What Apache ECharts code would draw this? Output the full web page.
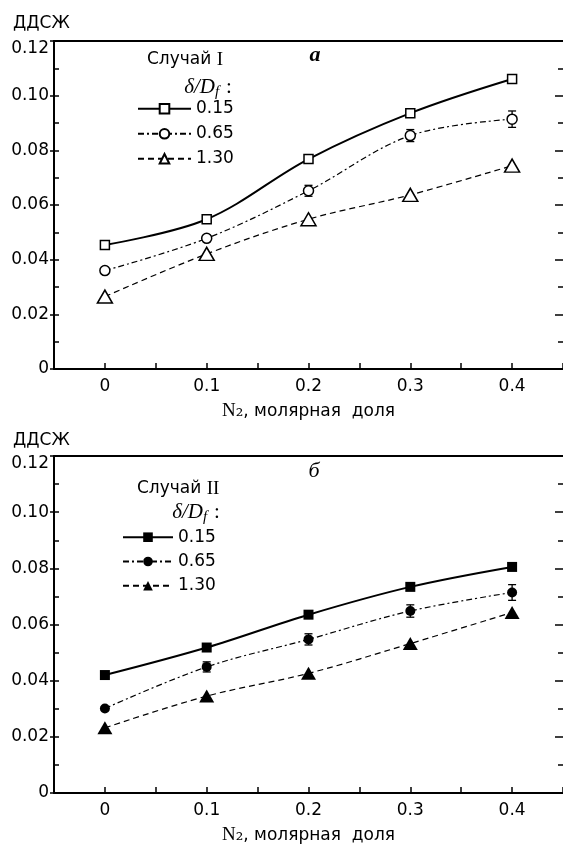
<!DOCTYPE html>
<html>
<head>
<meta charset="utf-8">
<script src="https://cdn.jsdelivr.net/npm/echarts@6/dist/echarts.min.js"></script>
<style>
  html, body { margin: 0; padding: 0; background: #fff; }
  #chart { width: 563px; height: 848px; }
</style>
</head>
<body>
<div id="chart"></div>
<script>
// N2 mole fraction
var n2 = [0, 0.1, 0.2, 0.3, 0.4];

// Случай I (hollow markers)
var case1_015 = [0.0454, 0.0548, 0.0768, 0.0936, 0.1061];
var case1_065 = [0.0360, 0.0478, 0.0652, 0.0854, 0.0914];
var case1_130 = [0.0265, 0.0421, 0.0548, 0.0637, 0.0744];
var case1_065_err = [0, 0, 0.002, 0.0022, 0.003];

// Случай II (filled markers)
var case2_015 = [0.0420, 0.0518, 0.0635, 0.0734, 0.0805];
var case2_065 = [0.0301, 0.0449, 0.0547, 0.0648, 0.0714];
var case2_130 = [0.0232, 0.0345, 0.0426, 0.0532, 0.0643];
var case2_065_err = [0, 0.0018, 0.002, 0.0022, 0.0028];

var legendNames = ["0.15", "0.65", "1.30"];
var xLabels = [0, 0.1, 0.2, 0.3, 0.4];

var SANS = "DejaVu Sans";
var SERIF = "Liberation Serif";

var chart = echarts.init(document.getElementById("chart"));

function pts(vals) {
  return n2.map(function (x, i) { return [x, vals[i]]; });
}

function lineSeries(name, vals, symbol, size, filled, dash, width, xi, yi) {
  return {
    type: "line",
    name: name,
    xAxisIndex: xi,
    yAxisIndex: yi,
    data: pts(vals),
    smooth: 0.35,
    symbol: symbol,
    symbolSize: size,
    showSymbol: true,
    z: 3,
    lineStyle: { color: "#000", width: width, type: dash },
    itemStyle: filled
      ? { color: "#000", borderColor: "#000", borderWidth: 0 }
      : { color: "#fff", borderColor: "#000", borderWidth: 1.5 },
    emphasis: { disabled: true }
  };
}

function errSeries(vals, errs, xi, yi) {
  return {
    type: "custom",
    xAxisIndex: xi,
    yAxisIndex: yi,
    z: 2,
    data: n2.map(function (x, i) { return [x, vals[i], errs[i]]; }),
    renderItem: function (params, api) {
      var x = api.value(0), y = api.value(1), e = api.value(2);
      if (!e) return;
      var hi = api.coord([x, y + e]);
      var lo = api.coord([x, y - e]);
      var w = 4;
      var st = { stroke: "#000", lineWidth: 1.3 };
      return {
        type: "group",
        children: [
          { type: "line", shape: { x1: hi[0], y1: hi[1], x2: lo[0], y2: lo[1] }, style: st },
          { type: "line", shape: { x1: hi[0] - w, y1: hi[1], x2: hi[0] + w, y2: hi[1] }, style: st },
          { type: "line", shape: { x1: lo[0] - w, y1: lo[1], x2: lo[0] + w, y2: lo[1] }, style: st }
        ]
      };
    }
  };
}

function xAxes(gi) {
  return [
    {
      type: "value", gridIndex: gi, position: "bottom",
      min: -0.05, max: 0.45, interval: 0.05,
      splitLine: { show: false },
      axisLine: { onZero: false, lineStyle: { color: "#000", width: 2 } },
      axisTick: { inside: true, length: 6, lineStyle: { color: "#000", width: 1.5 } },
      axisLabel: {
        margin: 9, fontFamily: SANS, fontSize: 17, color: "#000",
        showMinLabel: true, showMaxLabel: true,
        formatter: function (v) {
          for (var i = 0; i < xLabels.length; i++) {
            if (Math.abs(v - xLabels[i]) < 1e-6) return xLabels[i] === 0 ? "0" : String(xLabels[i]);
          }
          return "";
        }
      },
      name: "{n|N}{s|₂}{t|, молярная  доля}",
      nameLocation: "middle",
      nameGap: 33,
      nameTextStyle: {
        rich: {
          n: { fontFamily: SERIF, fontSize: 19, color: "#000" },
          s: { fontFamily: "DejaVu Serif", fontSize: 19, color: "#000" },
          t: { fontFamily: SANS, fontSize: 17, color: "#000" }
        }
      }
    },
    {
      type: "value", gridIndex: gi, position: "top",
      min: -0.05, max: 0.45,
      splitLine: { show: false },
      axisLine: { onZero: false, lineStyle: { color: "#000", width: 2 } },
      axisTick: { show: false },
      axisLabel: { show: false }
    }
  ];
}

function yAxes(gi) {
  return [
    {
      type: "value", gridIndex: gi, position: "left",
      min: 0, max: 0.12, interval: 0.02,
      splitLine: { show: false },
      axisLine: { onZero: false, lineStyle: { color: "#000", width: 2 } },
      axisTick: { inside: false, length: 4, lineStyle: { color: "#000", width: 1.5 } },
      axisLabel: {
        margin: 5, fontFamily: SANS, fontSize: 17, color: "#000",
        formatter: function (v) {
          if (v === 0) return "0";
          if (Math.abs(v - 0.12) < 1e-9) return "{top|0.12}";
          return v.toFixed(2);
        },
        rich: {
          top: { fontFamily: SANS, fontSize: 17, color: "#000", padding: [16, 0, 0, 0] }
        }
      }
    },
    {
      type: "value", gridIndex: gi, position: "left",
      min: 0, max: 0.12, interval: 0.01,
      splitLine: { show: false },
      axisLine: { show: false, onZero: false },
      axisTick: { inside: true, length: 5, lineStyle: { color: "#000", width: 1.5 } },
      axisLabel: { show: false }
    },
    {
      type: "value", gridIndex: gi, position: "right",
      min: 0, max: 0.12, interval: 0.02,
      splitLine: { show: false },
      axisLine: { show: false, onZero: false },
      axisTick: { inside: true, length: 8, lineStyle: { color: "#000", width: 1.5 } },
      minorTick: { show: true, splitNumber: 2, length: 5, lineStyle: { color: "#000", width: 1.5 } },
      axisLabel: { show: false }
    }
  ];
}

function legendFor(prefix, left, top, iw, gap) {
  return {
    orient: "vertical",
    left: left,
    top: top,
    padding: 0,
    itemWidth: iw,
    itemHeight: 12,
    itemGap: gap,
    selectedMode: false,
    data: legendNames.map(function (n) { return prefix + "|" + n; }),
    formatter: function (name) { return name.split("|")[1]; },
    textStyle: { fontFamily: SANS, fontSize: 17, color: "#000", lineHeight: 16 }
  };
}

function headerTexts(y0, caseText, caseX, caseY, dRight, ratioY, letter, letterX, letterY, bold) {
  var serifIt = "italic 21px '" + SERIF + "'";
  return [
    {
      type: "text",
      style: { x: 13, y: y0, text: "ДДСЖ", font: "17px '" + SANS + "'", fill: "#000", verticalAlign: "middle" }
    },
    {
      type: "text",
      style: {
        x: caseX, y: caseY, text: "{a|Случай }{b|" + caseText + "}", verticalAlign: "middle",
        rich: {
          a: { fontFamily: SANS, fontSize: 17, fill: "#000" },
          b: { fontFamily: SERIF, fontSize: 19, fill: "#000" }
        }
      }
    },
    {
      type: "text",
      style: { x: dRight, y: ratioY, text: "δ/D", align: "right", verticalAlign: "middle", font: serifIt, fill: "#000" }
    },
    {
      type: "text",
      style: { x: dRight, y: ratioY + 5, text: "f", align: "left", verticalAlign: "middle", font: "italic 15px '" + SERIF + "'", fill: "#000" }
    },
    {
      type: "text",
      style: { x: dRight + 11, y: ratioY, text: ":", align: "left", verticalAlign: "middle", font: "21px '" + SERIF + "'", fill: "#000" }
    },
    {
      type: "text",
      style: {
        x: letterX, y: letterY, text: letter, align: "center", verticalAlign: "middle",
        font: "italic " + (bold ? "bold " : "") + "22px '" + SERIF + "'", fill: "#000"
      }
    }
  ];
}

var option = {
  animation: false,
  backgroundColor: "#fff",
  grid: [
    { left: 54, top: 41, width: 509, height: 328, outerBoundsMode: "none", containLabel: false },
    { left: 54, top: 456, width: 509, height: 337, outerBoundsMode: "none", containLabel: false }
  ],
  xAxis: xAxes(0).concat(xAxes(1)),
  yAxis: yAxes(0).concat(yAxes(1)),
  legend: [
    legendFor("I", 137, 100.3, 53, 8),
    legendFor("II", 122, 528.7, 50, 7.3)
  ],
  graphic: headerTexts(23.5, "I", 147, 60, 215, 87, "a", 315, 55, true)
    .concat(headerTexts(441, "II", 137, 489, 203, 512, "б", 314, 471, false)),
  series: [
    errSeries(case1_065, case1_065_err, 0, 0),
    lineSeries("I|0.15", case1_015, "rect", 9, false, "solid", 2, 0, 0),
    lineSeries("I|0.65", case1_065, "circle", 10, false, [6, 3, 2, 3], 1.2, 0, 0),
    lineSeries("I|1.30", case1_130, "triangle", [15, 13], false, [6, 4], 1.2, 0, 0),
    errSeries(case2_065, case2_065_err, 2, 3),
    lineSeries("II|0.15", case2_015, "rect", 10, true, "solid", 2, 2, 3),
    lineSeries("II|0.65", case2_065, "circle", 10, true, [6, 3, 2, 3], 1.2, 2, 3),
    lineSeries("II|1.30", case2_130, "triangle", [15, 13], true, [6, 4], 1.2, 2, 3)
  ]
};

chart.setOption(option);
</script>
</body>
</html>
